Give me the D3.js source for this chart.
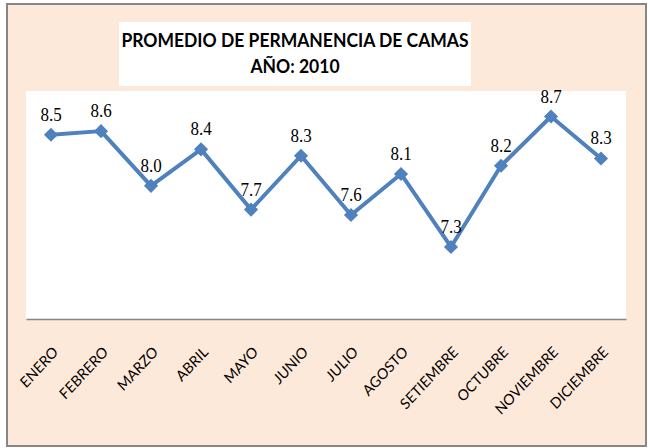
<!DOCTYPE html>
<html>
<head>
<meta charset="utf-8">
<script src="https://cdn.jsdelivr.net/npm/d3@7/dist/d3.min.js"></script>
<style>
  body { margin: 0; background: #fff; }
  svg { display: block; }
</style>
</head>
<body>
<svg id="chart" width="648" height="448"></svg>
<script>
// datos del grafico
var meses = ['ENERO', 'FEBRERO', 'MARZO', 'ABRIL', 'MAYO', 'JUNIO', 'JULIO',
  'AGOSTO', 'SETIEMBRE', 'OCTUBRE', 'NOVIEMBRE', 'DICIEMBRE'];
var promedio = [8.52, 8.56, 7.96, 8.36, 7.70, 8.29, 7.64, 8.09, 7.29, 8.18, 8.72, 8.26];
var titulo = ['PROMEDIO DE PERMANENCIA DE CAMAS', 'AÑO: 2010'];
var yDominio = [6.5, 9];

var svg = d3.select('#chart');
var plot = {left: 26, top: 91, right: 626, bottom: 319};

//fondo y borde
svg.append('rect')
  .attr('x', 7).attr('y', 4)
  .attr('width', 639).attr('height', 442)
  .attr('fill', '#FDE9D9')
  .attr('stroke', '#868686')
  .attr('stroke-width', 2);

svg.append('rect')
  .attr('x', plot.left).attr('y', plot.top)
  .attr('width', plot.right - plot.left)
  .attr('height', plot.bottom - plot.top)
  .attr('fill', '#fff');

//titulo
svg.append('rect')
  .attr('x', 119).attr('y', 22)
  .attr('width', 352).attr('height', 64)
  .attr('fill', '#fff');

svg.append('g')
  .selectAll('text')
  .data(titulo)
  .enter().append('text')
  .attr('transform', function(d, i){
    return 'translate(295,' + (47 + i * 26) + ') scale(1,1.05)';
  })
  .attr('text-anchor', 'middle')
  .attr('font-family', 'Lato, sans-serif')
  .attr('font-weight', 'bold')
  .attr('font-size', '17.5px')
  .attr('fill', '#000')
  .text(function(d){ return d; });

var x = d3.scaleBand().domain(meses).range([plot.left, plot.right]);
var y = d3.scaleLinear().domain(yDominio).range([plot.bottom, plot.top]);
var cx = function(m){ return x(m) + x.bandwidth() / 2; };

//eje x
var xAxis = svg.append('g')
  .attr('transform', 'translate(0,' + plot.bottom + ')')
  .call(d3.axisBottom(x).tickSize(0).tickFormat(''));
xAxis.select('.domain').attr('stroke', '#868686').attr('stroke-width', 1.3);

svg.append('g')
  .selectAll('text')
  .data(meses)
  .enter().append('text')
  .attr('transform', function(d){
    return 'translate(' + (cx(d) + 8) + ',353) scale(1,1.08) rotate(-45)';
  })
  .attr('text-anchor', 'end')
  .attr('font-family', 'Lato, sans-serif')
  .attr('font-size', '14px')
  .attr('fill', '#000')
  .text(function(d){ return d; });

//serie
var datos = meses.map(function(m, i){ return {mes: m, valor: promedio[i]}; });

svg.append('path')
  .datum(datos)
  .attr('fill', 'none')
  .attr('stroke', '#4F81BD')
  .attr('stroke-width', 4)
  .attr('stroke-linejoin', 'round')
  .attr('d', d3.line()
    .x(function(d){ return cx(d.mes); })
    .y(function(d){ return y(d.valor); }));

svg.append('g')
  .selectAll('path')
  .data(datos)
  .enter().append('path')
  .attr('d', d3.symbol().type(d3.symbolSquare).size(100))
  .attr('transform', function(d){
    return 'translate(' + cx(d.mes) + ',' + y(d.valor) + ') rotate(45)';
  })
  .attr('fill', '#4F81BD');

//etiquetas de datos
var fmt = d3.format('.1f');
svg.append('g')
  .selectAll('text')
  .data(datos)
  .enter().append('text')
  .attr('transform', function(d){
    return 'translate(' + cx(d.mes) + ',' + (y(d.valor) - 14) + ') scale(1,1.1)';
  })
  .attr('text-anchor', 'middle')
  .attr('font-family', '"Liberation Serif", "Times New Roman", serif')
  .attr('font-size', '17px')
  .attr('fill', '#000')
  .text(function(d){ return fmt(d.valor); });
</script>
</body>
</html>
